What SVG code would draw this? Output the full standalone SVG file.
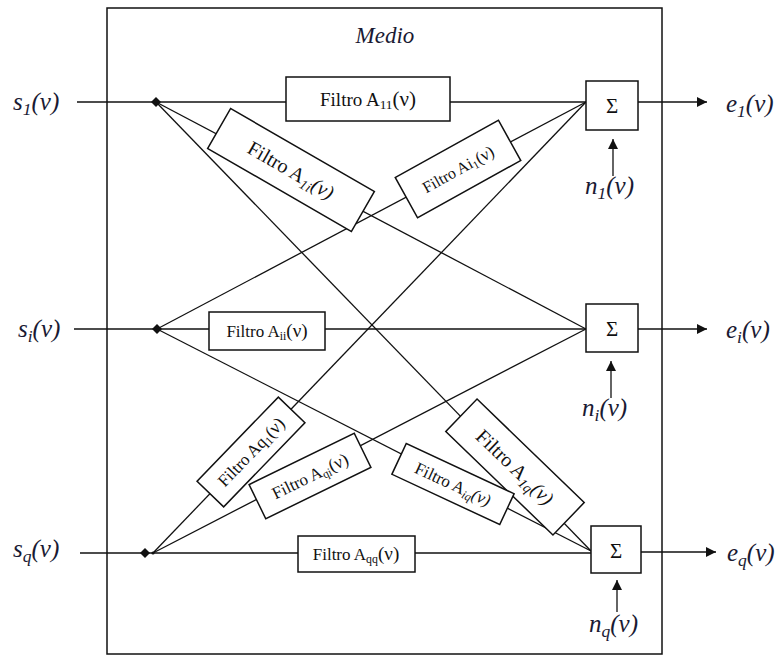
<svg xmlns="http://www.w3.org/2000/svg" width="776" height="656" viewBox="0 0 776 656">
<style>
.ln{stroke:#111;stroke-width:1.3;fill:none}
.bx{stroke:#111;stroke-width:1.5;fill:#fff}
.ft{font-family:"Liberation Serif","Times New Roman",serif;fill:#111;text-anchor:middle}
.io{font-family:"Liberation Serif","Times New Roman",serif;font-style:italic;font-size:25px;fill:#1a1a33}
.sub{font-size:70%}
</style>
<defs>
<marker id="ah" viewBox="0 0 10 10" refX="10" refY="5" markerWidth="10" markerHeight="10" markerUnits="userSpaceOnUse" orient="auto">
<path d="M0,0 L10,5 L0,10 Z" fill="#111"/>
</marker>
</defs>
<rect x="107" y="8" width="555" height="646" class="ln" style="stroke-width:1.5"/>
<text x="385" y="43" class="io" style="font-size:23px" text-anchor="middle">Medio</text>

<g id="connectors">
<line x1="77" y1="102" x2="586" y2="102" class="ln"/>
<line x1="156" y1="102" x2="586" y2="329" class="ln"/>
<line x1="156" y1="102" x2="591" y2="551" class="ln"/>
<line x1="74" y1="329" x2="586" y2="329" class="ln"/>
<line x1="157" y1="329" x2="586" y2="102" class="ln"/>
<line x1="157" y1="329" x2="591" y2="551" class="ln"/>
<line x1="80" y1="553" x2="591" y2="553" class="ln"/>
<line x1="153" y1="553" x2="586" y2="102" class="ln"/>
<line x1="153" y1="553" x2="586" y2="329" class="ln"/>
<line x1="638" y1="102" x2="707" y2="102" class="ln" marker-end="url(#ah)"/>
<line x1="638" y1="329" x2="707" y2="329" class="ln" marker-end="url(#ah)"/>
<line x1="641" y1="552" x2="716" y2="552" class="ln" marker-end="url(#ah)"/>
<line x1="613" y1="176" x2="613" y2="139" class="ln" marker-end="url(#ah)"/>
<line x1="611" y1="398" x2="611" y2="361" class="ln" marker-end="url(#ah)"/>
<line x1="617" y1="612" x2="617" y2="580" class="ln" marker-end="url(#ah)"/>
</g>

<g id="s1">
<path d="M156,97 L161,102 L156,107 L151,102 Z" fill="#111"/>
<text x="13" y="110" class="io">s<tspan class="sub" dy="5">1</tspan><tspan dy="-5">(ν)</tspan></text>
</g>
<g id="si">
<path d="M157,324 L162,329 L157,334 L152,329 Z" fill="#111"/>
<text x="18" y="337" class="io">s<tspan class="sub" dy="5">i</tspan><tspan dy="-5">(ν)</tspan></text>
</g>
<g id="sq">
<path d="M145,548 L150,553 L145,558 L140,553 Z" fill="#111"/>
<circle cx="153" cy="553" r="1.6" fill="#111"/>
<text x="13" y="557" class="io">s<tspan class="sub" dy="5">q</tspan><tspan dy="-5">(ν)</tspan></text>
</g>

<g id="A11">
<rect x="286" y="77" width="164" height="44" class="bx"/>
<text x="368" y="106" class="ft" font-size="19">Filtro A<tspan class="sub" dy="3">11</tspan><tspan dy="-3" font-size="21">(ν)</tspan></text>
</g>
<g id="Aii">
<rect x="209" y="312" width="116" height="38" class="bx"/>
<text x="267" y="337" class="ft" font-size="17">Filtro A<tspan class="sub" dy="3" font-size="9">ii</tspan><tspan dy="-3" font-size="19">(ν)</tspan></text>
</g>
<g id="Aqq">
<rect x="298" y="536" width="117" height="36" class="bx"/>
<text x="356" y="560" class="ft" font-size="17">Filtro A<tspan class="sub" dy="3" font-size="10">qq</tspan><tspan dy="-3" font-size="19">(ν)</tspan></text>
</g>

<g id="A1i" transform="translate(291,170) rotate(30)">
<rect x="-83" y="-23" width="166" height="46" class="bx"/>
<text x="0" y="7" class="ft" font-size="20">Filtro A<tspan class="sub" dy="4" font-style="italic">1i</tspan><tspan dy="-4" font-style="italic">(ν)</tspan></text>
</g>
<g id="Ai1" transform="translate(458,169) rotate(-29)">
<rect x="-59" y="-23" width="118" height="46" class="bx"/>
<text x="0" y="6" class="ft" font-size="16">Filtro Ai<tspan class="sub" dy="3">1</tspan><tspan dy="-3" font-size="17">(ν)</tspan></text>
</g>
<g id="Aq1" transform="translate(251,452) rotate(-46)">
<rect x="-58.5" y="-18.5" width="117" height="37" class="bx"/>
<text x="0" y="6" class="ft" font-size="17">Filtro Aq<tspan class="sub" dy="3">1</tspan><tspan dy="-3" font-size="18">(ν)</tspan></text>
</g>
<g id="Aqi" transform="translate(310,476) rotate(-26)">
<rect x="-58.5" y="-19" width="117" height="38" class="bx"/>
<text x="0" y="6" class="ft" font-size="17">Filtro A<tspan class="sub" dy="3">qi</tspan><tspan dy="-3" font-size="18">(ν)</tspan></text>
</g>
<g id="A1q" transform="translate(515,467) rotate(44)">
<rect x="-74.5" y="-22.5" width="149" height="45" class="bx"/>
<text x="0" y="7" class="ft" font-size="20">Filtro A<tspan class="sub" dy="4" font-style="italic">1q</tspan><tspan dy="-4" font-style="italic">(ν)</tspan></text>
</g>
<g id="Aiq" transform="translate(453,484) rotate(25)">
<rect x="-59.5" y="-17" width="119" height="34" class="bx"/>
<text x="0" y="6" class="ft" font-size="17">Filtro A<tspan class="sub" dy="3" font-style="italic">iq</tspan><tspan dy="-3" font-style="italic">(ν)</tspan></text>
</g>

<g id="sum1">
<rect x="586" y="81" width="52" height="49" class="bx"/>
<text x="612" y="113" class="ft" font-size="21">Σ</text>
</g>
<g id="sumi">
<rect x="586" y="304" width="52" height="48" class="bx"/>
<text x="612" y="336" class="ft" font-size="21">Σ</text>
</g>
<g id="sumq">
<rect x="591" y="526" width="50" height="47" class="bx"/>
<text x="616" y="558" class="ft" font-size="21">Σ</text>
</g>

<g id="e1"><text x="726" y="112" class="io">e<tspan class="sub" dy="5">1</tspan><tspan dy="-5">(ν)</tspan></text></g>
<g id="ei"><text x="726" y="338" class="io">e<tspan class="sub" dy="5">i</tspan><tspan dy="-5">(ν)</tspan></text></g>
<g id="eq"><text x="727" y="561" class="io">e<tspan class="sub" dy="5">q</tspan><tspan dy="-5">(ν)</tspan></text></g>
<g id="n1"><text x="585" y="194" class="io">n<tspan class="sub" dy="5">1</tspan><tspan dy="-5">(ν)</tspan></text></g>
<g id="ni"><text x="582" y="416" class="io">n<tspan class="sub" dy="5">i</tspan><tspan dy="-5">(ν)</tspan></text></g>
<g id="nq"><text x="589" y="632" class="io">n<tspan class="sub" dy="5">q</tspan><tspan dy="-5">(ν)</tspan></text></g>
</svg>
